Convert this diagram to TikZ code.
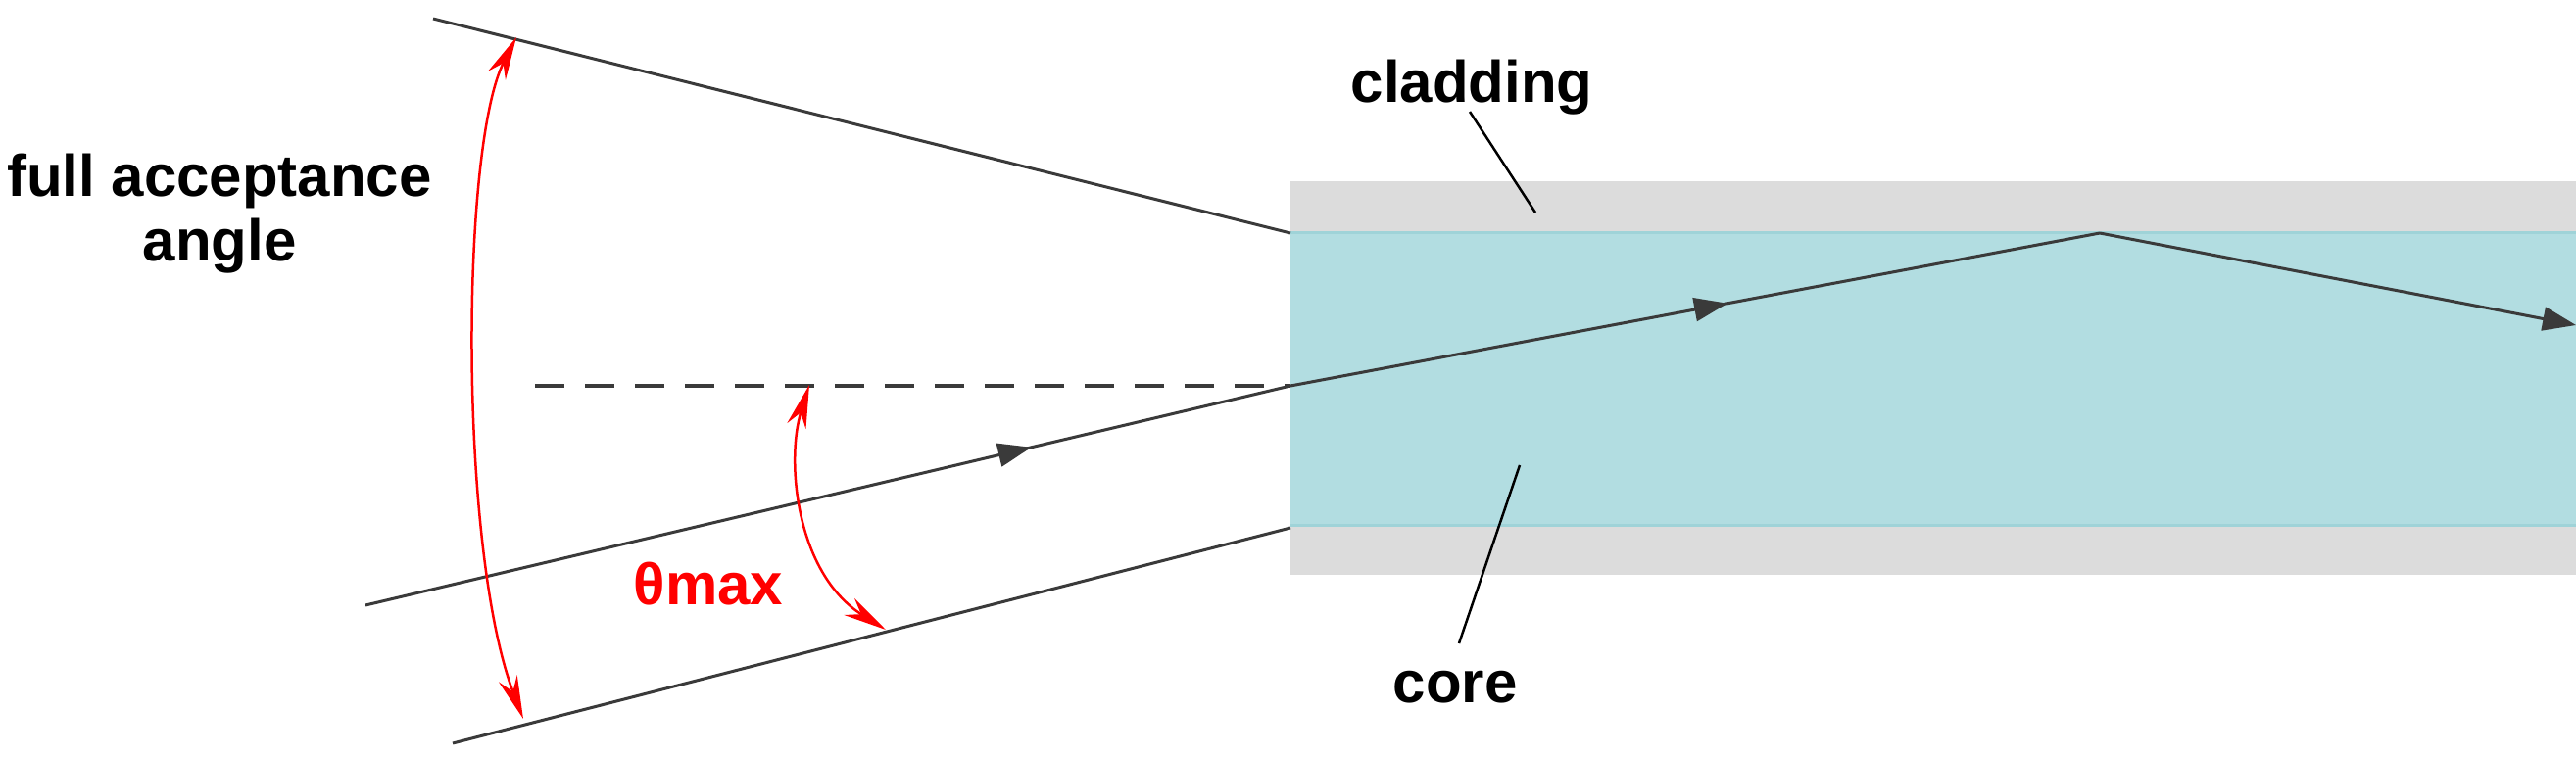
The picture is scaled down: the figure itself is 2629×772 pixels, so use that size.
\documentclass[tikz,border=0pt]{standalone}
\usepackage{fontspec}
\setmainfont{Liberation Sans}
\usetikzlibrary{arrows.meta,decorations.markings}
\definecolor{coreC}{HTML}{B2DDE1}
\definecolor{coreE}{HTML}{9FD3D8}
\definecolor{cladC}{HTML}{DCDCDC}
\definecolor{lineC}{HTML}{3A3A3A}
\tikzset{
  ray/.style={draw=lineC,line width=3pt},
  midarrow/.style={postaction={decorate},decoration={markings,mark=at position #1 with {\arrow{Triangle[length=34pt,width=24pt]}}}},
  redarc/.style={draw=red,line width=2.5pt,{Stealth[length=44pt,width=20pt]}-{Stealth[length=44pt,width=20pt]}},
  lbl/.style={font=\fontsize{60}{66}\selectfont\bfseries,inner sep=0pt,align=center},
  leader/.style={draw=black,line width=2.5pt}
}
\begin{document}
\begin{tikzpicture}[x=1pt,y=-1pt]
\useasboundingbox (0,0) rectangle (2629,772);
% fiber
\fill[cladC] (1317,185) rectangle (2629,587);
\fill[coreC] (1317,236) rectangle (2629,537);
\draw[coreE,line width=3pt] (1317,237) -- (2629,237) (1317,536) -- (2629,536);
% coordinates
\coordinate (T1) at (442,19);  \coordinate (T2) at (1317,238);
\coordinate (B1) at (462,759); \coordinate (B2) at (1317,539);
\coordinate (R1) at (373,618); \coordinate (E) at (1317,394);
\coordinate (D1) at (546,394);
\coordinate (P) at (2143,238); \coordinate (Q) at (2629,332);
% lines
\draw[ray] (T1) -- (T2);
\draw[ray] (B1) -- (B2);
\draw[draw=lineC,line width=3.5pt,dash pattern=on 30pt off 21pt] (D1) -- (E);
\draw[ray,midarrow=0.72] (R1) -- (E);
\draw[ray,midarrow=0.54] (E) -- (P);
\draw[ray,-{Triangle[length=34pt,width=24pt]}] (P) -- (Q);
% red arcs
\coordinate (A1) at (527,38); \coordinate (A2) at (534,734);
\draw[redarc] (A1) .. controls (470,150) and (468,560) .. (A2);
\coordinate (S1) at (826,393); \coordinate (S2) at (904,643);
\draw[redarc] (S1) .. controls (802,470) and (812,585) .. (S2);
% labels
\node[lbl] (fa) at (224,218) {full acceptance\\angle};
\node[lbl,text=red] (th) at (723,596) {θmax};
\node[lbl,anchor=base] (cl) at (1502,104) {cladding};
\node[lbl,anchor=base] (co) at (1485,717) {core};
\coordinate (c1) at (1500,114); \coordinate (c2) at (1567,217);
\coordinate (k1) at (1551,475); \coordinate (k2) at (1489,657);
\draw[leader] (c1) -- (c2);
\draw[leader] (k1) -- (k2);
\end{tikzpicture}
\end{document}
